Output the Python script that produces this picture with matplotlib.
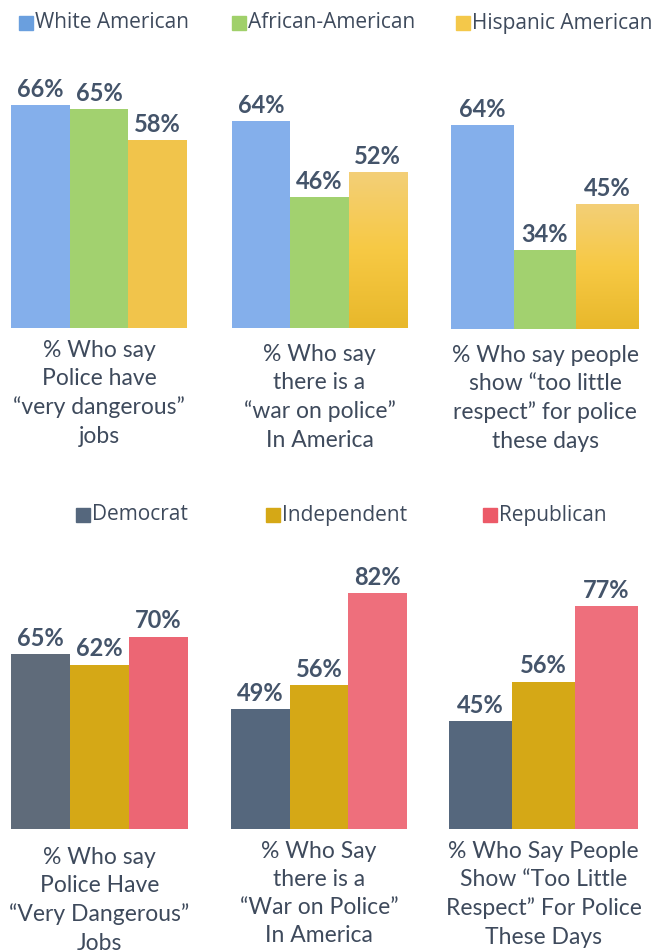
import numpy as np
import matplotlib
matplotlib.use("Agg")
import matplotlib.pyplot as plt
from matplotlib.patches import Rectangle
from matplotlib.colors import LinearSegmentedColormap

W, H = 654, 951

race_groups = ["White American", "African-American", "Hispanic American"]
party_groups = ["Democrat", "Independent", "Republican"]

race_dangerous = [66, 65, 58]
race_war = [64, 46, 52]
race_respect = [64, 34, 45]

party_dangerous = [65, 62, 70]
party_war = [49, 56, 82]
party_respect = [45, 56, 77]

race_labels = [
    "% Who say\nPolice have\n\u201cvery dangerous\u201d\njobs",
    "% Who say\nthere is a\n\u201cwar on police\u201d\nIn America",
    "% Who say people\nshow \u201ctoo little\nrespect\u201d for police\nthese days",
]
party_labels = [
    "% Who say\nPolice Have\n\u201cVery Dangerous\u201d\nJobs",
    "% Who Say\nthere is a\n\u201cWar on Police\u201d\nIn America",
    "% Who Say People\nShow \u201cToo Little\nRespect\u201d For Police\nThese Days",
]

VAL_COLOR = "#44546a"
TXT_COLOR = "#3e4a5c"
YMIN = 15
YMAX = 85

fig = plt.figure(figsize=(W / 100, H / 100), dpi=100)


def px_axes(left, baseline, width, scale):
    # scale = pixels per percentage point
    height = (YMAX - YMIN) * scale
    ax = fig.add_axes([left / W, (H - baseline) / H, width / W, height / H])
    ax.set_xlim(-0.5, 2.5)
    ax.set_ylim(YMIN, YMAX)
    ax.axis("off")
    return ax


def gradient_bar(ax, x, v, colors):
    cmap = LinearSegmentedColormap.from_list("g", colors)
    grad = np.linspace(0, 1, 256).reshape(-1, 1)
    bar = ax.bar(x, v - YMIN, bottom=YMIN, width=1.0, color="none", linewidth=0)[0]
    im = ax.imshow(grad, cmap=cmap, aspect="auto", origin="upper",
                   extent=(x - 0.5, x + 0.5, YMIN, v), zorder=2)
    im.set_clip_path(bar)
    ax.set_xlim(-0.5, 2.5)
    ax.set_ylim(YMIN, YMAX)


def panel(left, baseline, width, scale, values, colors, label, label_y,
          grad=None):
    ax = px_axes(left, baseline, width, scale)
    for i, v in enumerate(values):
        if grad is not None and i == 2:
            gradient_bar(ax, i, v, grad)
        else:
            ax.bar(i, v - YMIN, bottom=YMIN, width=1.0, color=colors[i],
                   linewidth=0, zorder=2)
        ax.annotate(f"{v}%", (i, v), xytext=(0, 3),
                    textcoords="offset points", ha="center", va="bottom",
                    fontsize=17, fontweight="bold", family="Lato",
                    color=VAL_COLOR)
    fig.text((left + width / 2) / W, 1 - label_y / H, label, ha="center",
             va="top", fontsize=16.5, family="Lato", color=TXT_COLOR,
             linespacing=1.42)


race_colors = ["#84afeb", "#a2d16f", "#f1c44b"]
hisp_grad = ["#f3cf78", "#f7c944", "#e8b82b"]
party_colors_a = ["#5f6b7a", "#d5a816", "#ec6674"]
party_colors_b = ["#55677d", "#d5a816", "#ee6f7c"]

panel(11, 328, 176, 4.375, race_dangerous, race_colors, race_labels[0], 340)
panel(232, 328, 175, 4.22, race_war, race_colors, race_labels[1], 344,
      grad=hisp_grad)
panel(451, 329, 188, 4.17, race_respect, race_colors, race_labels[2], 345,
      grad=hisp_grad)

panel(11, 829, 177, 3.5, party_dangerous, party_colors_a, party_labels[0], 847)
panel(231, 829, 176, 3.515, party_war, party_colors_b, party_labels[1], 841)
panel(449, 829, 189, 3.594, party_respect, party_colors_b, party_labels[2],
      841)


def legend_row(names, colors, xs, y):
    for name, c, x in zip(names, colors, xs):
        fig.patches.append(Rectangle((x / W, 1 - (y + 7) / H), 14 / W, 14 / H,
                                     transform=fig.transFigure, color=c))
        fig.text((x + 16) / W, 1 - y / H, name, ha="left", va="center",
                 fontsize=15, family="Open Sans", color=TXT_COLOR)


legend_row(race_groups, ["#6a9fde", "#a0d06a", "#f4c84a"], [19, 232, 456], 23)
legend_row(party_groups, ["#55677d", "#d5a816", "#ec5a68"], [76, 266, 483],
           515)

fig.savefig("out.png", dpi=100, facecolor="white")
